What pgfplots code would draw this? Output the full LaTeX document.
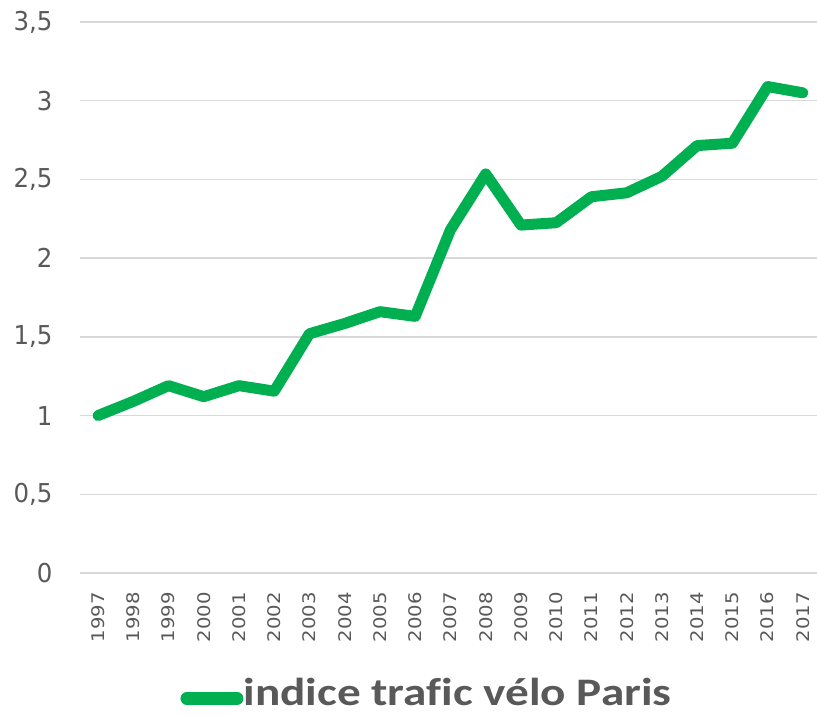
\documentclass[border=0pt]{standalone}
\usepackage{fontspec}
\usepackage{pgfplots}
\pgfplotsset{compat=1.18}
\setmainfont{DejaVu Sans}
\newfontfamily\ytickfont[FakeStretch=0.94]{DejaVu Sans}
\newfontfamily\xtickfont[FakeStretch=1.13]{DejaVu Sans}
\newfontfamily\legfont[FakeStretch=1.21, Ligatures=NoCommon]{Carlito}
\definecolor{vert}{HTML}{00B050}
\definecolor{txt}{HTML}{595959}
\definecolor{gridc}{HTML}{D9D9D9}
\begin{document}
\begin{tikzpicture}
\begin{axis}[name=ax, scale only axis, width=736.6bp, height=551bp,
 xmin=1996.5, xmax=2017.4, ymin=0, ymax=3.5,
 ytick={0,0.5,1,1.5,2,2.5,3,3.5}, xtick={1997,1998,...,2017},
 axis line style={draw=none}, major tick length=0pt,
 ymajorgrids, grid style={gridc, line width=1.3bp},
 /pgf/number format/assume math mode=true,
 /pgf/number format/use comma,
 yticklabel style={font=\ytickfont\fontsize{26bp}{30bp}\selectfont, text=txt, anchor=east, inner sep=0pt},
 yticklabel shift=27.7bp,
 xticklabel style={font=\xtickfont\fontsize{17.4bp}{20bp}\selectfont, text=txt, rotate=90, anchor=east, inner sep=0pt, /pgf/number format/1000 sep={}},
 xticklabel shift=19bp,
 legend style={at={(axis description cs:0.1284,-0.2167)}, anchor=west, draw=none, fill=none, inner sep=0pt, outer sep=0pt, font=\legfont\bfseries\fontsize{39bp}{44bp}\selectfont, text=txt, nodes={inner sep=0pt}},
 legend image code/.code={\draw[line width=12.7bp, line cap=round, vert] (0bp,-6bp) -- (50.3bp,-6bp); \path (-6.35bp,0bp) (50.65bp,0bp);},
]
\addplot[vert, line width=11bp, line cap=round, line join=round] coordinates {
(1997,1.00) (1998,1.09) (1999,1.19) (2000,1.12) (2001,1.19) (2002,1.155)
(2003,1.52) (2004,1.585) (2005,1.66) (2006,1.63) (2007,2.18) (2008,2.535)
(2009,2.21) (2010,2.225) (2011,2.39) (2012,2.415) (2013,2.52) (2014,2.715)
(2015,2.73) (2016,3.09) (2017,3.05)};
\addlegendentry{indice trafic vélo Paris}
\end{axis}
\pgfresetboundingbox
\path[use as bounding box] ([xshift=-80.4bp,yshift=-142bp]ax.south west) rectangle ++(817bp,715bp);
\end{tikzpicture}
\end{document}
